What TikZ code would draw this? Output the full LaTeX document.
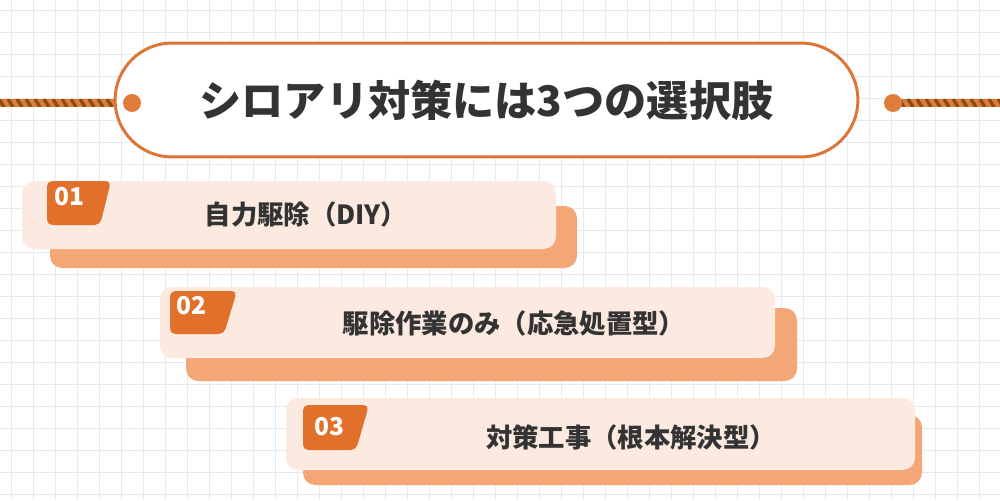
\documentclass[tikz,border=0pt]{standalone}
\usepackage{fontspec}
\setmainfont{Noto Sans CJK JP}
\usetikzlibrary{shapes.misc}
\definecolor{ropeorange}{HTML}{E07C3A}
\definecolor{ropebrown}{HTML}{8A4B14}
\definecolor{pillline}{HTML}{DC7636}
\definecolor{tabfill}{HTML}{E0702A}
\definecolor{frontfill}{HTML}{FCEAE0}
\definecolor{backfill}{HTML}{F3A676}
\definecolor{inkgray}{HTML}{333333}
\definecolor{gridblue}{HTML}{E6EAF0}
\begin{document}
\begin{tikzpicture}[x=0.02cm,y=-0.02cm,
	gridline/.style={draw=gridblue,line width=0.5pt},
	rope/.style={line width=4.5pt,draw=ropeorange},
	stripe/.style={draw=ropebrown,line width=1.9pt},
	pill/.style={rounded rectangle,draw=pillline,line width=1.7pt,fill=white,
		minimum width=14.86cm,minimum height=2.28cm,inner sep=0pt,
		text=inkgray,font=\fontsize{24}{28}\selectfont\bfseries},
	backbox/.style={fill=backfill,rounded corners=7pt},
	frontbox/.style={fill=frontfill,rounded corners=7pt},
	tabbox/.style={fill=tabfill,rounded corners=3pt},
	num/.style={text=white,font=\fontsize{14}{16}\selectfont\bfseries,inner sep=0pt},
	item/.style={text=inkgray,font=\fontsize{15}{18}\selectfont\bfseries,inner sep=0pt}]
	\useasboundingbox (0,0) rectangle (1000,500);
	\fill[white] (0,0) rectangle (1000,500);
	% background grid
	\foreach \gx in {11,33,...,1000}{
		\draw[gridline] (\gx,0) -- (\gx,500);
	}
	\foreach \gy in {10,32,...,500}{
		\draw[gridline] (0,\gy) -- (1000,\gy);
	}

	% title with ropes
	\coordinate (ropeL) at (0,103);
	\coordinate (ropeR) at (1000,103);
	\coordinate (pinL) at (115,103);
	\coordinate (dotR) at (893,103);
	\draw[rope] (ropeL) -- (pinL);
	\draw[rope] (dotR) -- (ropeR);
	\begin{scope}
		\clip (0,99) rectangle (115,107) (893,99) rectangle (1000,107);
		\foreach \s in {-10,-1,...,1010}{
			\draw[stripe] (\s,99) -- (\s+5,107);
		}
	\end{scope}
	\node[pill] (title) at (486.5,100) {シロアリ対策には3つの選択肢};
	\fill[ropeorange] (132,103) circle (0.18cm);
	\fill[ropeorange] (dotR) circle (0.18cm);

	% 01
	\fill[backbox] (50,206) rectangle (577,268);
	\fill[frontbox] (22,181) rectangle (556,249);
	\fill[tabbox] (47,181) -- (111,181) -- (100,225) -- (47,225) -- cycle;
	\node[num] (n1) at (69,197) {01};
	\node[item] (t1) at (306,214) {自力駆除（DIY）};

	% 02
	\fill[backbox] (186,308) rectangle (797,381);
	\fill[frontbox] (160,287) rectangle (775,358);
	\fill[tabbox] (170,291) -- (237,291) -- (224,334) -- (170,334) -- cycle;
	\node[num] (n2) at (191,306) {02};
	\node[item] (t2) at (514,323) {駆除作業のみ（応急処置型）};

	% 03
	\fill[backbox] (303,415) rectangle (922,485);
	\fill[frontbox] (286,398) rectangle (915,470);
	\fill[tabbox] (303,405) -- (369,405) -- (356,450) -- (303,450) -- cycle;
	\node[num] (n3) at (329,427) {03};
	\node[item] (t3) at (631,437) {対策工事（根本解決型）};
\end{tikzpicture}
\end{document}
